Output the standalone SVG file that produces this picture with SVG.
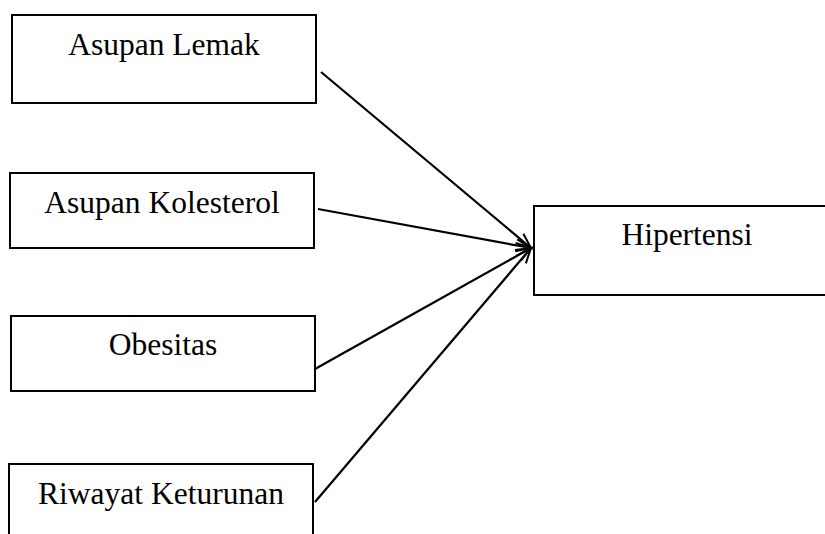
<svg xmlns="http://www.w3.org/2000/svg" width="825" height="534" viewBox="0 0 825 534">
<defs>
<marker id="arr" markerUnits="userSpaceOnUse" markerWidth="20" markerHeight="14" refX="16" refY="7" orient="auto">
<path d="M1,1 L16,7 L1,13" fill="none" stroke="#000" stroke-width="2"/>
</marker>
<style>
.box{fill:#fff;stroke:#000;stroke-width:2}
.lbl{font-family:"Liberation Serif","Times New Roman",serif;font-size:31.5px;fill:#000;text-anchor:middle}
.edge{stroke:#000;stroke-width:2.2;fill:none;marker-end:url(#arr)}
</style>
</defs>
<rect width="825" height="534" fill="#fff"/>
<g id="lemak"><rect class="box" x="12" y="15" width="304" height="88"/><text class="lbl" x="164" y="55">Asupan Lemak</text></g>
<g id="kolesterol"><rect class="box" x="10" y="173" width="304" height="75"/><text class="lbl" x="162" y="213">Asupan Kolesterol</text></g>
<g id="obesitas"><rect class="box" x="11" y="316" width="304" height="75"/><text class="lbl" x="163" y="355">Obesitas</text></g>
<g id="riwayat"><rect class="box" x="9" y="464" width="304" height="90"/><text class="lbl" x="161" y="504">Riwayat Keturunan</text></g>
<g id="hipertensi"><rect class="box" x="534" y="206" width="310" height="89"/><text class="lbl" x="687" y="245">Hipertensi</text></g>
<g id="connectors">
<line class="edge" x1="321" y1="72" x2="531" y2="248"/>
<line class="edge" x1="318" y1="209" x2="531" y2="248"/>
<line class="edge" x1="315" y1="369" x2="531" y2="248"/>
<line class="edge" x1="315" y1="502" x2="531" y2="248"/>
</g>
</svg>
